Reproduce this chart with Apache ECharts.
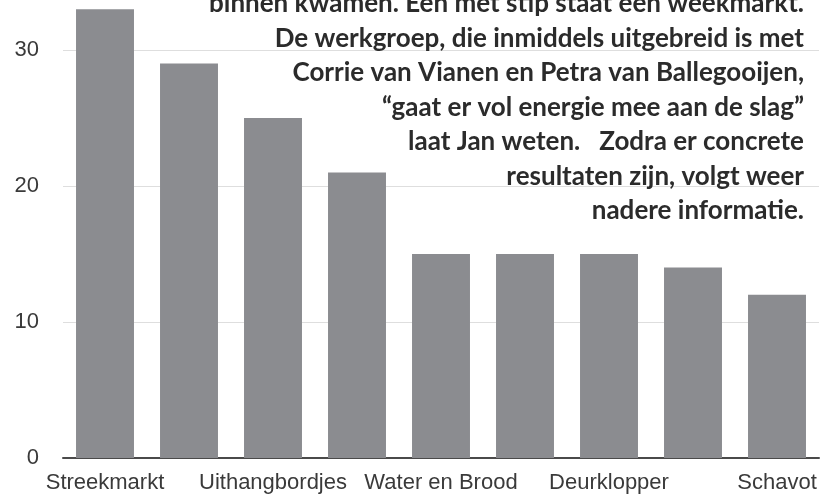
<!DOCTYPE html>
<html>
<head>
<meta charset="utf-8">
<script src="https://cdn.jsdelivr.net/npm/echarts@6/dist/echarts.min.js"></script>
<style>
  html, body { margin: 0; padding: 0; background: #fff; }
  #chart { width: 832px; height: 496px; }
</style>
</head>
<body>
<div id="chart"></div>
<script>
// categorieen en aantallen
var categories = ['Streekmarkt', 'Weekmarkt', 'Uithangbordjes', 'Lichtroute', 'Water en Brood',
  'Kunstroute', 'Deurklopper', 'Muziekfestival', 'Schavot'];
var counts = [33, 29, 25, 21, 15, 15, 15, 14, 12];
var yTicks = [0, 10, 20, 30, 40];

// tekst uit het artikel die over de grafiek heen staat
var articleLines = [
  'binnen kwamen. Een met stip staat een weekmarkt.',
  'De werkgroep, die inmiddels uitgebreid is met',
  'Corrie van Vianen en Petra van Ballegooijen,',
  '\u201Cgaat er vol energie mee aan de slag\u201D',
  'laat Jan weten.   Zodra er concrete',
  'resultaten zijn, volgt weer',
  'nadere informatie.'
];

var chart = echarts.init(document.getElementById('chart'));

var textEls = articleLines.map(function (line, i) {
  return {
    type: 'text',
    right: 28,
    top: -9 + i * 34.5,
    z: 100,
    style: {
      text: line,
      font: 'bold 26px Lato',
      fill: '#2b2b2b',
      textAlign: 'right'
    }
  };
});

var option = {
  animation: false,
  backgroundColor: '#fff',
  grid: {
    left: 63,
    right: 13,
    top: -86,
    bottom: 38,
    outerBoundsMode: 'none'
  },
  xAxis: {
    type: 'category',
    data: categories,
    axisLine: { lineStyle: { color: '#4a4a4a', width: 2 } },
    axisTick: { show: false },
    axisLabel: {
      interval: 1,
      margin: 14,
      color: '#3a3a3a',
      fontSize: 22,
      fontFamily: 'Liberation Sans'
    }
  },
  yAxis: {
    type: 'value',
    min: yTicks[0],
    max: yTicks[yTicks.length - 1],
    interval: 10,
    axisLine: { show: false },
    axisTick: { show: false },
    axisLabel: {
      margin: 24,
      color: '#3a3a3a',
      fontSize: 22,
      fontFamily: 'Liberation Sans'
    },
    splitLine: { lineStyle: { color: '#dedede', width: 1 } }
  },
  series: [{
    type: 'bar',
    data: counts,
    barCategoryGap: '31%',
    itemStyle: { color: '#8b8c90' }
  }],
  graphic: textEls
};

chart.setOption(option);
</script>
</body>
</html>
